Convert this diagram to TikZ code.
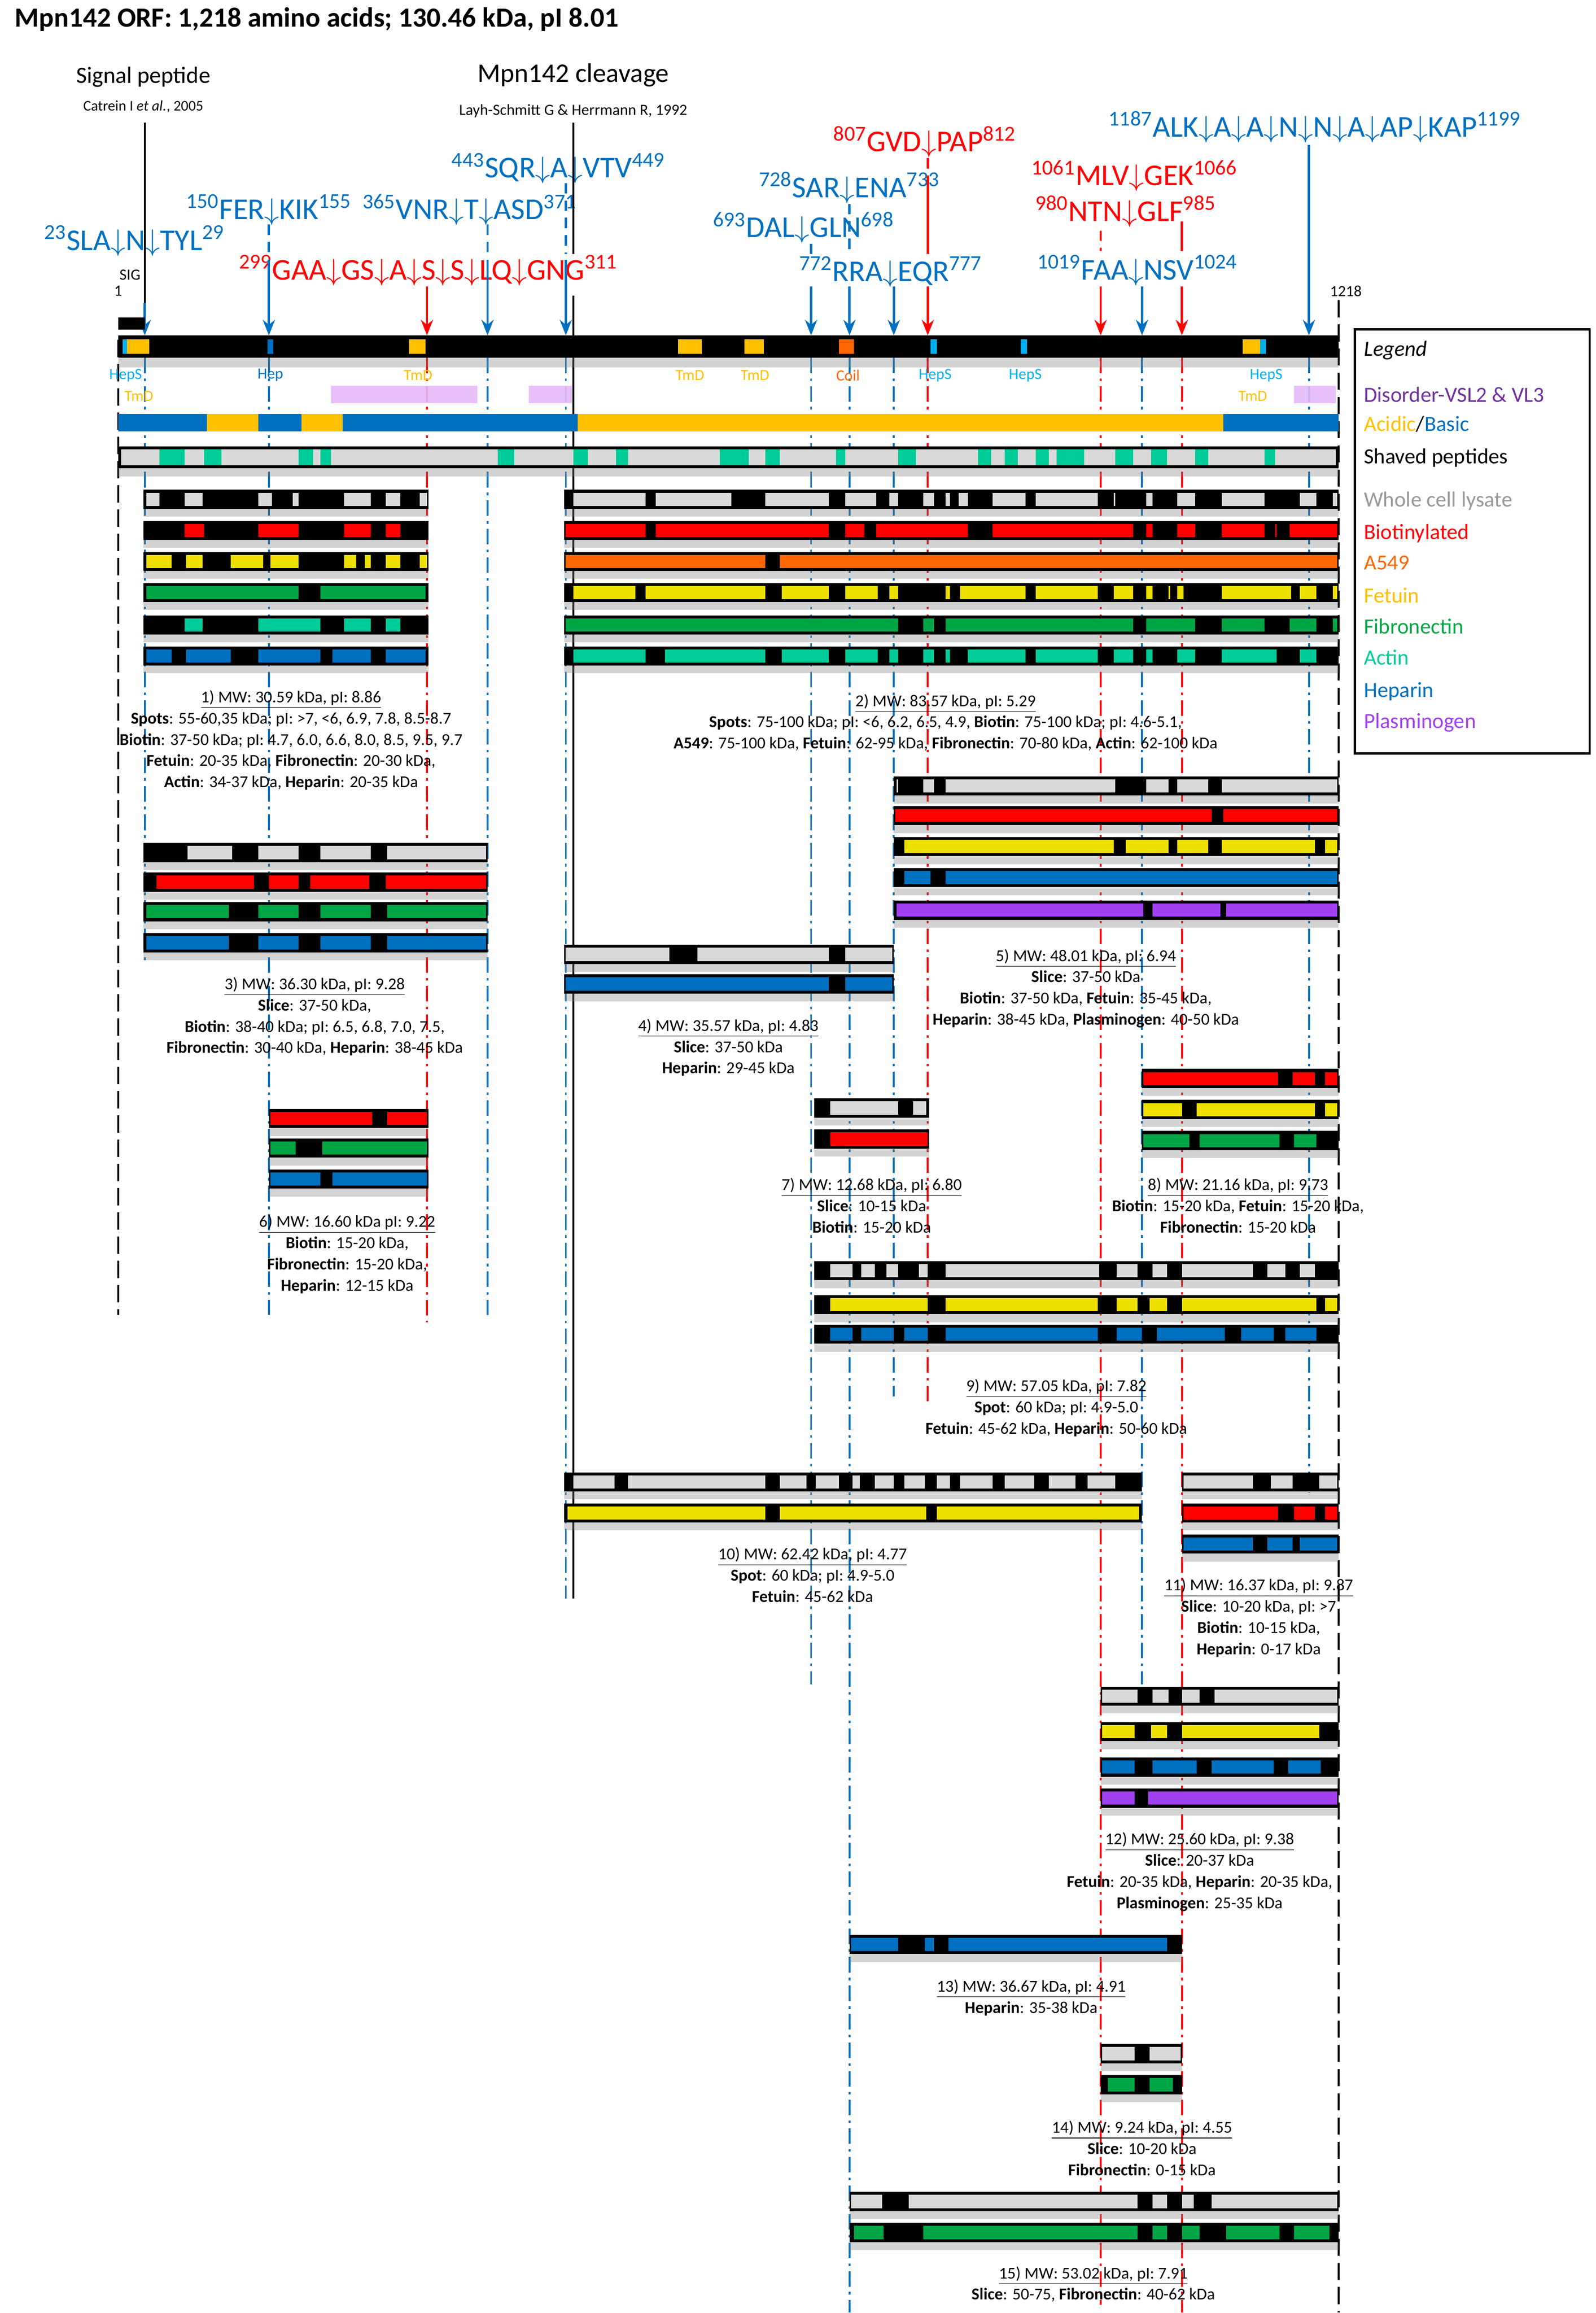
\documentclass[tikz,border=0pt]{standalone}
\usepackage{fontspec}
\setmainfont{Carlito}
\usetikzlibrary{arrows.meta,shadows}
\definecolor{cgrey}{HTML}{D9D9D9}
\definecolor{cred}{HTML}{FF0000}
\definecolor{corange}{HTML}{FF6600}
\definecolor{cyellow}{HTML}{EEE000}
\definecolor{cgreen}{HTML}{00A645}
\definecolor{cteal}{HTML}{00CC99}
\definecolor{cblue}{HTML}{0070C0}
\definecolor{cpurple}{HTML}{A040F0}
\definecolor{cacid}{HTML}{FFC000}
\definecolor{cdis}{HTML}{E6B9F9}
\definecolor{ccyan}{HTML}{00B0F0}
\definecolor{ctmd}{HTML}{FFC000}
\definecolor{cleg}{HTML}{7030A0}
% one fragment row: y, x1, x2, colour, coloured segments
\newcommand\fragrow[5]{%
  \fill[black,drop shadow={shadow xshift=0pt,shadow yshift=-1.6mm,opacity=.35}] (#2,#1-6.5) rectangle (#3,#1+6.5);
  \foreach \a/\b in {#5} \fill[#4] (\a,#1-4.5) rectangle (\b,#1+4.5);
}
\begin{document}
\begin{tikzpicture}[x=0.3mm,y=-0.3mm,
  seqb/.style={text=cblue,font=\fontsize{17.5}{20}\selectfont,inner sep=1pt},
  seqr/.style={text=cred,font=\fontsize{17.5}{20}\selectfont,inner sep=1pt},
  feat/.style={font=\fontsize{9}{10}\selectfont,inner sep=0pt},
  info/.style={align=center,font=\fontsize{9.6}{12.3}\selectfont},
  legitem/.style={anchor=west,font=\fontsize{12.5}{14}\selectfont,inner sep=0pt},
  guideb/.style={cblue,line width=1.1pt,dash pattern=on 9pt off 3pt on 1.5pt off 3pt},
  guider/.style={cred,line width=1.1pt,dash pattern=on 9pt off 3pt on 1.5pt off 3pt},
  arb/.style={cblue,line width=1.3pt,-{Stealth[length=9pt,width=7pt]}},
  arr/.style={cred,line width=1.3pt,-{Stealth[length=9pt,width=7pt]}},
  dashb/.style={cblue,line width=1.3pt,dash pattern=on 6pt off 4pt},
  dashr/.style={cred,line width=1.3pt,dash pattern=on 6pt off 4pt}]
\useasboundingbox (0,0) rectangle (1080,1565.5);

% headings
\node[anchor=west,font=\fontsize{16}{19}\selectfont\bfseries] (title) at (6,13) {Mpn142 ORF: 1,218 amino acids; 130.46 kDa, pI 8.01};
\node[font=\fontsize{13.5}{15}\selectfont] (sigp) at (97,52) {Signal peptide};
\node[font=\fontsize{8.5}{10}\selectfont] (catrein) at (97,72) {Catrein I \textit{et al.}, 2005};
\node[font=\fontsize{15.5}{17}\selectfont] (cleav) at (388,51) {Mpn142 cleavage};
\node[font=\fontsize{9}{10}\selectfont] (layh) at (388,75) {Layh-Schmitt G \& Herrmann R, 1992};

% cleavage sites
\node[seqb] (sla) at (91,163) {\textsuperscript{23}SLA$\downarrow$N$\downarrow$TYL\textsuperscript{29}};
\node[seqb] (fer) at (182,142) {\textsuperscript{150}FER$\downarrow$KIK\textsuperscript{155}};
\node[seqb] (vnr) at (318,142) {\textsuperscript{365}VNR$\downarrow$T$\downarrow$ASD\textsuperscript{371}};
\node[seqb] (sqr) at (378,114) {\textsuperscript{443}SQR$\downarrow$A$\downarrow$VTV\textsuperscript{449}};
\node[seqr] (gaa) at (290,183) {\textsuperscript{299}GAA$\downarrow$GS$\downarrow$A$\downarrow$S$\downarrow$S$\downarrow$LQ$\downarrow$GNG\textsuperscript{311}};
\node[seqr] (gvd) at (626,96) {\textsuperscript{807}GVD$\downarrow$PAP\textsuperscript{812}};
\node[seqb] (sar) at (575,127) {\textsuperscript{728}SAR$\downarrow$ENA\textsuperscript{733}};
\node[seqb] (dal) at (544,154) {\textsuperscript{693}DAL$\downarrow$GLN\textsuperscript{698}};
\node[seqb] (rra) at (603,184) {\textsuperscript{772}RRA$\downarrow$EQR\textsuperscript{777}};
\node[seqr] (ntn) at (762,143) {\textsuperscript{980}NTN$\downarrow$GLF\textsuperscript{985}};
\node[seqr] (mlv) at (768,119) {\textsuperscript{1061}MLV$\downarrow$GEK\textsuperscript{1066}};
\node[seqb] (faa) at (770,183) {\textsuperscript{1019}FAA$\downarrow$NSV\textsuperscript{1024}};
\node[seqb] (alk) at (890,86) {\textsuperscript{1187}ALK$\downarrow$A$\downarrow$A$\downarrow$N$\downarrow$N$\downarrow$A$\downarrow$AP$\downarrow$KAP\textsuperscript{1199}};
\node[feat] (sig) at (88,186) {SIG};
\node[feat] (one) at (80,197) {1};
\node[feat] (end) at (911,197) {1218};

% guide lines behind the bars
\foreach \x/\y in {98/650,182/890,330/890,383/1082,549/1140,575/1565,605/945,773/1140,886/1010}
  \draw[guideb] (\x,242) -- (\x,\y);
\foreach \x/\y in {289/895,628/950,745/1560,800/1565}
  \draw[guider] (\x,242) -- (\x,\y);
\draw[line width=1.2pt,dash pattern=on 10pt off 4pt] (80,230) -- (80,890);
\draw[line width=1.2pt,dash pattern=on 10pt off 4pt] (906,203) -- (906,1565);
\draw[line width=1.2pt] (98,83) -- (98,205);
\draw[line width=1.2pt] (388,83) -- (388,172);
\draw[line width=1.2pt] (388,200) -- (388,1082);

% arrows onto the protein
\foreach \x in {98,182,330,383,549,575,605,773,886} \coordinate (b\x) at (\x,227);
\foreach \x in {289,628,745,800} \coordinate (r\x) at (\x,227);
\draw[arb] (98,205) -- (b98);
\draw[dashb] (182,152) -- (182,172); \draw[arb] (182,176) -- (b182);
\draw[dashb] (330,152) -- (330,172); \draw[arb] (330,176) -- (b330);
\draw[dashb] (383,124) -- (383,172); \draw[arb] (383,176) -- (b383);
\draw[arr] (289,194) -- (r289);
\draw[dashb] (549,165) -- (549,172); \draw[arb] (549,194) -- (b549);
\draw[dashb] (575,138) -- (575,172); \draw[arb] (575,194) -- (b575);
\draw[arb] (605,194) -- (b605);
\draw[dashr] (628,107) -- (628,120); \draw[cred,line width=1.3pt] (628,120) -- (628,172); \draw[arr] (628,194) -- (r628);
\draw[dashr] (745,156) -- (745,170); \draw[arr] (745,194) -- (r745);
\draw[arb] (773,194) -- (b773);
\draw[cred,line width=1.3pt] (800,150) -- (800,170); \draw[arr] (800,194) -- (r800);
\draw[arb] (886,98) -- (b886);

% protein bar and features
\fill (80,215) rectangle (98,223);
\fill[black,drop shadow={shadow xshift=0pt,shadow yshift=-2mm,opacity=.35}] (80,227) rectangle (906,242);
\foreach \a/\b/\c in {83/86/ccyan,86/101/cacid,181/185/cblue,277/288/cacid,459/475/cacid,504/517/cacid,568/578/corange,630/634/ccyan,691/695/ccyan,841/853/cacid,853/857/ccyan}
  \fill[\c] (\a,229.5) rectangle (\b,239.5);
\node[feat,text=ccyan] (hs1) at (85,254) {HepS};
\node[feat,text=ctmd] (tm1) at (94,268) {TmD};
\node[feat,text=cblue] (hep) at (183,254) {Hep};
\node[feat,text=ctmd] (tm2) at (283,254) {TmD};
\node[feat,text=ctmd] (tm3) at (467,254) {TmD};
\node[feat,text=ctmd] (tm4) at (511,254) {TmD};
\node[feat,text=corange] (coil) at (574,254) {Coil};
\node[feat,text=ccyan] (hs2) at (633,254) {HepS};
\node[feat,text=ccyan] (hs3) at (694,254) {HepS};
\node[feat,text=ccyan] (hs4) at (857,254) {HepS};
\node[feat,text=ctmd] (tm5) at (848,268) {TmD};
\foreach \a/\b in {224/323,358/387,876/904} \fill[cdis,opacity=.9] (\a,261) rectangle (\b,273);
\foreach \a/\b/\c in {80/140/cblue,140/175/cacid,175/204/cblue,204/232/cacid,232/391/cblue,391/828/cacid,828/906/cblue}
  \fill[\c] (\a,280) rectangle (\b,292);
\fill[black,drop shadow={shadow xshift=0pt,shadow yshift=-1.6mm,opacity=.35}] (80,302) rectangle (906,317);
\fill[cgrey] (82,304) rectangle (904,315);
\foreach \a/\b in {108/125,138/150,202/212,217/224,337/348,388/398,417/425,487/507,518/528,566/572,608/620,662/671,680/689,701/710,715/734,755/767,779/790,809/818,856/863}
  \fill[cteal] (\a,304) rectangle (\b,315);

% fragment 1
\fragrow{338}{97}{290}{cgrey}{99/108,125/137,175/184,198/202,233/251,261/271,284/289}
\fragrow{359}{97}{290}{cred}{125/138,175/202,233/251,261/271}
\fragrow{380}{97}{290}{cyellow}{99/116,126/137,156/178,183/202,233/241,247/251,261/271,284/289}
\fragrow{401}{97}{290}{cgreen}{99/202,217/288}
\fragrow{423}{97}{290}{cteal}{125/137,175/217,233/251,261/271}
\fragrow{444}{97}{290}{cblue}{99/116,126/156,175/217,225/251,261/288}
% fragment 2
\fragrow{338}{382}{906}{cgrey}{388/437,444/495,518/561,572/593,602/608,625/632,640/643,649/655,672/694,701/743,754/755,776/780,797/809,827/856,880/891,902/905}
\fragrow{359}{382}{906}{cred}{383/437,444/561,572/585,593/655,672/767,776/780,797/809,827/856,863/864,873/905}
\fragrow{380}{382}{906}{corange}{383/518,528/905}
\fragrow{401}{382}{906}{cyellow}{388/430,437/518,529/561,572/594,602/608,640/643,650/694,701/743,754/767,776/780,791/792,797/801,827/874,880/891,902/905}
\fragrow{423}{382}{906}{cgreen}{383/608,625/632,640/767,776/809,827/856,873/891,902/905}
\fragrow{444}{382}{906}{cteal}{388/437,450/518,529/561,572/594,602/608,625/632,640/643,655/694,701/743,754/767,776/780,797/809,827/864,880/891}
% fragment 5
\fragrow{532}{605}{906}{cgrey}{607/608,625/632,640/755,776/791,797/818,827/905}
\fragrow{552}{605}{906}{cred}{606/820,828/905}
\fragrow{573}{605}{906}{cyellow}{612/754,762/791,797/818,827/890,897/905}
\fragrow{594}{605}{906}{cblue}{612/630,640/905}
\fragrow{616}{605}{906}{cpurple}{607/774,780/826,830/905}
% fragment 3
\fragrow{577}{97}{330}{cgrey}{127/157,175/202,217/251,262/329}
\fragrow{597}{97}{330}{cred}{106/172,182/202,210/250,261/329}
\fragrow{617}{97}{330}{cgreen}{99/155,175/202,217/251,262/329}
\fragrow{638}{97}{330}{cblue}{99/155,175/202,217/251,262/329}
% fragment 4
\fragrow{646}{382}{605}{cgrey}{383/453,472/561,572/604}
\fragrow{666}{382}{605}{cblue}{383/561,572/604}
% fragment 6
\fragrow{757}{182}{290}{cred}{183/252,262/289}
\fragrow{777}{182}{290}{cgreen}{183/200,218/289}
\fragrow{798}{182}{290}{cblue}{183/217,225/289}
% fragment 7
\fragrow{750}{551}{629}{cgrey}{562/608,618/627}
\fragrow{771}{551}{629}{cred}{562/628}
% fragment 8
\fragrow{730}{773}{906}{cred}{774/865,875/890,897/905}
\fragrow{751}{773}{906}{cyellow}{774/800,810/890,897/905}
\fragrow{772}{773}{906}{cgreen}{774/805,812/866,876/891}
% fragment 9
\fragrow{860}{551}{906}{cgrey}{562/577,583/592,600/608,622/628,640/744,756/770,780/790,800/848,858/870,880/890}
\fragrow{883}{551}{906}{cyellow}{562/628,640/743,756/770,778/790,800/891,897/905}
\fragrow{903}{551}{906}{cblue}{562/577,583/605,612/628,640/743,756/773,783/829,840/862,870/891}
% fragment 10
\fragrow{1003}{382}{773}{cgrey}{388/416,425/518,528/546,552/568,577/582,592/605,612/626,634/643,650/672,680/700,710/728,736/755}
\fragrow{1024}{382}{773}{cyellow}{384/518,528/627,634/771}
% fragment 11
\fragrow{1003}{800}{906}{cgrey}{801/848,860/875,893/905}
\fragrow{1024}{800}{906}{cred}{801/865,876/890,897/905}
\fragrow{1045}{800}{906}{cblue}{801/848,858/875,880/905}
% fragment 12
\fragrow{1148}{745}{906}{cgrey}{746/770,780/791,800/812,822/905}
\fragrow{1172}{745}{906}{cyellow}{746/768,779/790,800/893}
\fragrow{1196}{745}{906}{cblue}{746/768,780/810,820/862,872/894}
\fragrow{1217}{745}{906}{cpurple}{746/768,777/905}
% fragment 13
\fragrow{1316}{575}{800}{cblue}{576/608,626/632,642/790}
% fragment 14
\fragrow{1390}{745}{800}{cgrey}{746/768,778/799}
\fragrow{1411}{745}{800}{cgreen}{750/768,778/794}
% fragment 15
\fragrow{1490}{575}{906}{cgrey}{576/597,615/770,780/790,800/808,820/905}
\fragrow{1511}{575}{906}{cgreen}{578/598,625/770,780/790,800/812,830/866,876/900}

% fragment descriptions
\node[info] (t1) at (197,501) {\underline{1) MW: 30.59 kDa, pI: 8.86}\\\textbf{Spots}: 55-60,35 kDa; pI: >7, <6, 6.9, 7.8, 8.5-8.7\\\textbf{Biotin}: 37-50 kDa; pI: 4.7, 6.0, 6.6, 8.0, 8.5, 9.5, 9.7\\\textbf{Fetuin}: 20-35 kDa, \textbf{Fibronectin}: 20-30 kDa,\\\textbf{Actin}: 34-37 kDa, \textbf{Heparin}: 20-35 kDa};
\node[info] (t2) at (640,489) {\underline{2) MW: 83.57 kDa, pI: 5.29}\\\textbf{Spots}: 75-100 kDa; pI: <6, 6.2, 6.5, 4.9, \textbf{Biotin}: 75-100 kDa; pI: 4.6-5.1,\\\textbf{A549}: 75-100 kDa, \textbf{Fetuin}: 62-95 kDa, \textbf{Fibronectin}: 70-80 kDa, \textbf{Actin}: 62-100 kDa};
\node[info] (t3) at (213,688) {\underline{3) MW: 36.30 kDa, pI: 9.28}\\\textbf{Slice}: 37-50 kDa,\\\textbf{Biotin}: 38-40 kDa; pI: 6.5, 6.8, 7.0, 7.5,\\\textbf{Fibronectin}: 30-40 kDa, \textbf{Heparin}: 38-45 kDa};
\node[info] (t4) at (493,709) {\underline{4) MW: 35.57 kDa, pI: 4.83}\\\textbf{Slice}: 37-50 kDa\\\textbf{Heparin}: 29-45 kDa};
\node[info] (t5) at (735,669) {\underline{5) MW: 48.01 kDa, pI: 6.94}\\\textbf{Slice}: 37-50 kDa\\\textbf{Biotin}: 37-50 kDa, \textbf{Fetuin}: 35-45 kDa,\\\textbf{Heparin}: 38-45 kDa, \textbf{Plasminogen}: 40-50 kDa};
\node[info] (t6) at (235,849) {\underline{6) MW: 16.60 kDa pI: 9.22}\\\textbf{Biotin}: 15-20 kDa,\\\textbf{Fibronectin}: 15-20 kDa,\\\textbf{Heparin}: 12-15 kDa};
\node[info] (t7) at (590,816) {\underline{7) MW: 12.68 kDa, pI: 6.80}\\\textbf{Slice}: 10-15 kDa\\\textbf{Biotin}: 15-20 kDa};
\node[info] (t8) at (838,816) {\underline{8) MW: 21.16 kDa, pI: 9.73}\\\textbf{Biotin}: 15-20 kDa, \textbf{Fetuin}: 15-20 kDa,\\\textbf{Fibronectin}: 15-20 kDa};
\node[info] (t9) at (715,953) {\underline{9) MW: 57.05 kDa, pI: 7.82}\\\textbf{Spot}: 60 kDa; pI: 4.9-5.0\\\textbf{Fetuin}: 45-62 kDa, \textbf{Heparin}: 50-60 kDa};
\node[info] (t10) at (550,1066) {\underline{10) MW: 62.42 kDa, pI: 4.77}\\\textbf{Spot}: 60 kDa; pI: 4.9-5.0\\\textbf{Fetuin}: 45-62 kDa};
\node[info] (t11) at (852,1095) {\underline{11) MW: 16.37 kDa, pI: 9.87}\\\textbf{Slice}: 10-20 kDa, pI: >7\\\textbf{Biotin}: 10-15 kDa,\\\textbf{Heparin}: 0-17 kDa};
\node[info] (t12) at (812,1267) {\underline{12) MW: 25.60 kDa, pI: 9.38}\\\textbf{Slice}: 20-37 kDa\\\textbf{Fetuin}: 20-35 kDa, \textbf{Heparin}: 20-35 kDa,\\\textbf{Plasminogen}: 25-35 kDa};
\node[info] (t13) at (698,1352) {\underline{13) MW: 36.67 kDa, pI: 4.91}\\\textbf{Heparin}: 35-38 kDa};
\node[info] (t14) at (773,1454) {\underline{14) MW: 9.24 kDa, pI: 4.55}\\\textbf{Slice}: 10-20 kDa\\\textbf{Fibronectin}: 0-15 kDa};
\node[info] (t15) at (740,1546) {\underline{15) MW: 53.02 kDa, pI: 7.91}\\\textbf{Slice}: 50-75, \textbf{Fibronectin}: 40-62 kDa};

% legend
\draw[line width=1.3pt] (917,223) rectangle (1076,510);
\node[legitem,font=\fontsize{12.5}{14}\selectfont\itshape] (lg) at (923,237) {Legend};
\node[legitem,text=cleg] (lg1) at (923,267) {Disorder-VSL2 \& VL3};
\node[legitem] (lg2) at (923,287) {\textcolor{cacid}{Acidic}/\textcolor{cblue}{Basic}};
\node[legitem] (lg3) at (923,310) {Shaved peptides};
\node[legitem,text=black!40] (lg4) at (923,339) {Whole cell lysate};
\node[legitem,text=cred] (lg5) at (923,361) {Biotinylated};
\node[legitem,text=corange] (lg6) at (923,381) {A549};
\node[legitem,text=cacid] (lg7) at (923,403) {Fetuin};
\node[legitem,text=cgreen] (lg8) at (923,424) {Fibronectin};
\node[legitem,text=cteal] (lg9) at (923,445) {Actin};
\node[legitem,text=cblue] (lg10) at (923,468) {Heparin};
\node[legitem,text=cpurple] (lg11) at (923,489) {Plasminogen};
\end{tikzpicture}
\end{document}
